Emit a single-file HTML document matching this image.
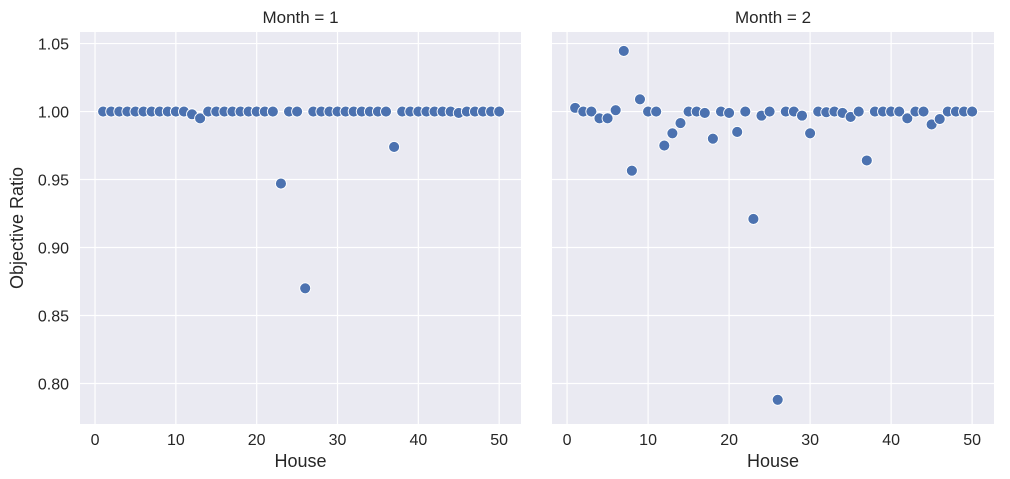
<!DOCTYPE html>
<html><head><meta charset="utf-8"><style>
body{margin:0;background:#fff;font-family:"Liberation Sans",sans-serif;}
</style></head><body>
<svg id="c" width="1010" height="479" style="display:block"></svg>
<script>
const houses=[];for(let i=1;i<=50;i++)houses.push(i);
const month1=[1,1,1,1,1,1,1,1,1,1,1,0.998,0.995,1,1,1,1,1,1,1,1,1,0.947,1,1,0.870,1,1,1,1,1,1,1,1,1,1,0.974,1,1,1,1,1,1,1,0.999,1,1,1,1,1];
const month2=[1.0027,1,1,0.995,0.995,1.001,1.0446,0.9565,1.009,1,1,0.975,0.984,0.9915,1,1,0.999,0.98,1,0.999,0.985,1,0.921,0.997,1,0.788,1,1,0.997,0.984,1,0.9995,1,0.999,0.996,1,0.964,1,1,1,1,0.995,1,1,0.9905,0.9945,1,1,1,1];
const xTicks=[0,10,20,30,40,50];
const yTicks=[0.80,0.85,0.90,0.95,1.00,1.05];
const panels=[{title:"Month = 1",vals:month1,x0:80,x1:521,name:"month-1"},{title:"Month = 2",vals:month2,x0:552,x1:994,name:"month-2"}];
const NS="http://www.w3.org/2000/svg";const svg=document.getElementById('c');
const plotTop=32,plotBot=424,xmin=-1.86,xmax=52.7,ymin=0.7702,ymax=1.0585;
function mk(t,a,p){const e=document.createElementNS(NS,t);for(const k in a)e.setAttribute(k,a[k]);(p||svg).appendChild(e);return e;}
const Y=v=>plotBot-(v-ymin)/(ymax-ymin)*(plotBot-plotTop);
panels.forEach((p,pi)=>{
 const X=v=>p.x0+(v-xmin)/(xmax-xmin)*(p.x1-p.x0);
 const g=mk('g',{});
 
 
 mk('rect',{x:p.x0,y:plotTop,width:p.x1-p.x0,height:plotBot-plotTop,fill:'#eaeaf2'},g);
 xTicks.forEach(t=>{mk('line',{x1:X(t),x2:X(t),y1:plotTop,y2:plotBot,stroke:'#fff','stroke-width':1.2},g);
  const tx=mk('text',{x:X(t),y:plotBot+21,'text-anchor':'middle','font-size':16,fill:'#262626'},g);tx.textContent=t;
  
  });
 yTicks.forEach(t=>{mk('line',{x1:p.x0,x2:p.x1,y1:Y(t),y2:Y(t),stroke:'#fff','stroke-width':1.2},g);
  if(pi==0){const ty=mk('text',{x:p.x0-11,y:Y(t)+6,'text-anchor':'end','font-size':16,fill:'#262626'},g);ty.textContent=t.toFixed(2);
  
  }});
 const ti=mk('text',{x:(p.x0+p.x1)/2,y:23,'text-anchor':'middle','font-size':17,fill:'#262626'},g);ti.textContent=p.title;
 
 
 const xl=mk('text',{x:(p.x0+p.x1)/2,y:467,'text-anchor':'middle','font-size':18,fill:'#262626'},g);xl.textContent='House';
 
 
 p.vals.forEach((v,i)=>{const c=mk('circle',{cx:X(houses[i]),cy:Y(v),r:5.5,fill:'#4c72b0',stroke:'#fff','stroke-width':0.9},g);
  
  });
});
const yl=mk('text',{x:23,y:228,'text-anchor':'middle','font-size':18,fill:'#262626',transform:'rotate(-90 23 228)'});yl.textContent='Objective Ratio';


</script></body></html>
